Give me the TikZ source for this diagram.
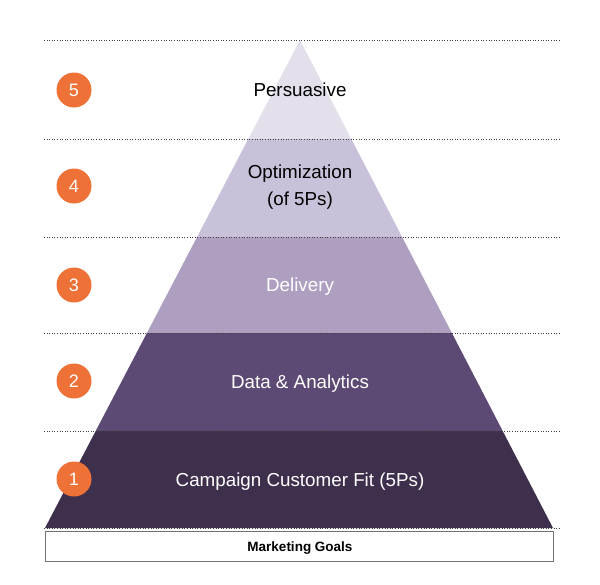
\documentclass[tikz,border=0pt]{standalone}
\usepackage{fontspec}
\setmainfont{Liberation Sans}
\usepackage{xcolor}
\usepackage{tikz}
\usetikzlibrary{positioning,calc}

\definecolor{lvlfive}{HTML}{E4E0EB}
\definecolor{lvlfour}{HTML}{C9C1D9}
\definecolor{lvlthree}{HTML}{AE9FC1}
\definecolor{lvltwo}{HTML}{5C4A74}
\definecolor{lvlone}{HTML}{3E2F4D}
\definecolor{badge}{HTML}{EE7137}

\tikzset{
  level/.style={font=\fontsize{18.8}{22}\selectfont,align=center},
  stepnum/.style={circle,fill=badge,minimum size=35pt,inner sep=0pt,text=white,font=\fontsize{18}{20}\selectfont},
  sep/.style={black!75,line width=0.6pt,dotted}
}

\begin{document}
\begin{tikzpicture}[x=1pt,y=-1pt]
\useasboundingbox (0,0) rectangle (600,584);
% pyramid bands
\begin{scope}
\clip (300,40) -- (553,528) -- (45,528) -- cycle;
\fill[lvlfive] (40,40) rectangle (560,139);
\fill[lvlfour] (40,139) rectangle (560,237);
\fill[lvlthree] (40,237) rectangle (560,333);
\fill[lvltwo] (40,333) rectangle (560,431);
\fill[lvlone] (40,431) rectangle (560,529);
\end{scope}
% separators
\foreach \y in {40,139,237,333,431,528}{
  \draw[sep] (44,\y) -- (560,\y);
}
% level labels
\node[level] (persuasive) at (300,90) {Persuasive};
\node[level] (optim) at (300,187.5) {Optimization\\[5pt](of 5Ps)};
\node[level,text=white] (delivery) at (300,286.5) {Delivery};
\node[level,text=white] (data) at (300,383.5) {Data \& Analytics};
\node[level,text=white] (fit) at (300,481.5) {Campaign Customer Fit (5Ps)};
% numbers
\foreach \n/\y in {5/90,4/186,3/285,2/381,1/479}{
  \node[stepnum] (num\n) at (74,\y) {\n};
}
% base
\draw[black!55,line width=0.8pt,fill=white] (45,531) rectangle (553,561);
\node[font=\bfseries\fontsize{13.5}{15}\selectfont] (goals) at (300,548) {Marketing Goals};
\end{tikzpicture}
\end{document}
